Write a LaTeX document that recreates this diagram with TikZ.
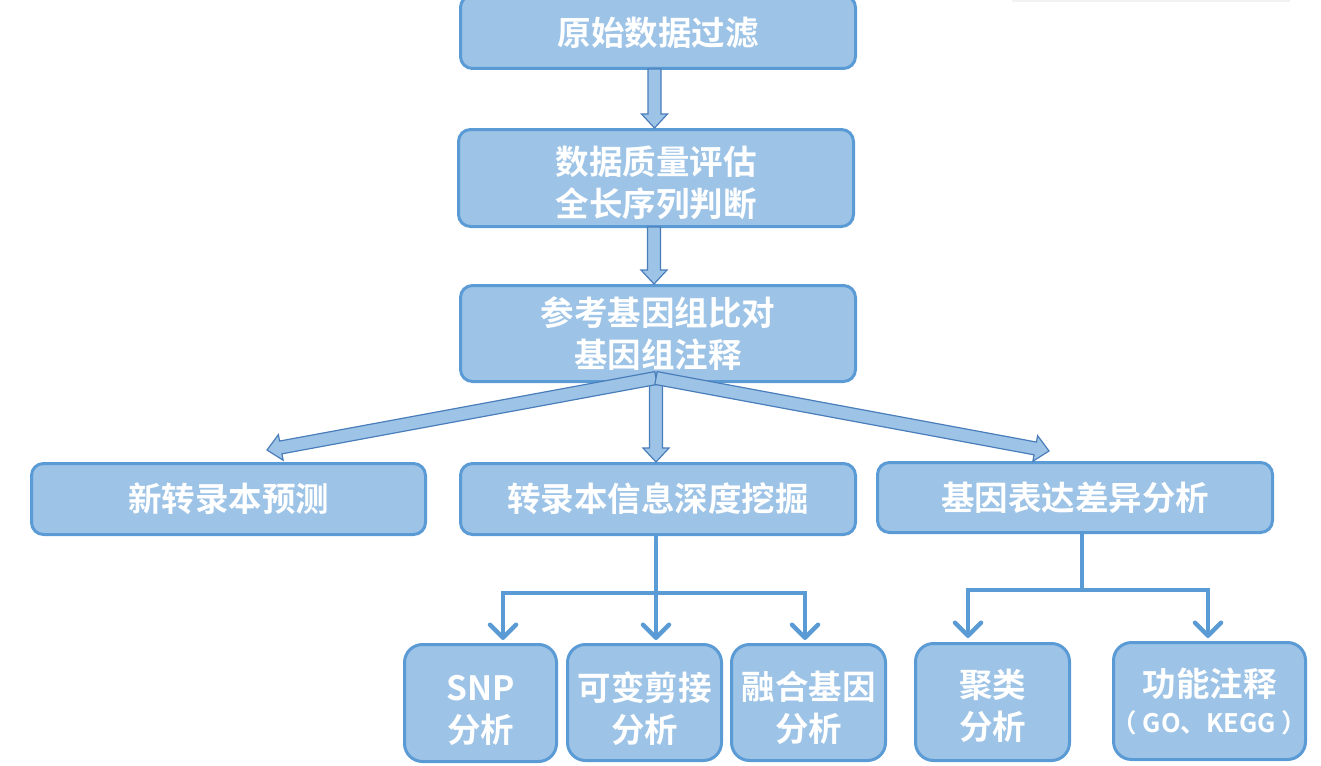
\documentclass[tikz,border=0pt]{standalone}
\usepackage{fontspec}
\setmainfont{Noto Sans CJK SC}[BoldFont={Noto Sans CJK SC Bold}]
\usetikzlibrary{calc,arrows.meta}
\definecolor{boxfill}{RGB}{157,195,230}
\definecolor{boxline}{RGB}{91,155,213}
\definecolor{arrline}{RGB}{74,126,187}
\newcommand\blockarr[2]{%
  \coordinate (bah) at ($(#2)!14pt!(#1)$);
  \draw[blockstyle] ($(#1)!6.5pt!-90:(#2)$) -- ($(bah)!6.5pt!-90:(#2)$) -- ($(bah)!13pt!-90:(#2)$) -- (#2) -- ($(bah)!13pt!90:(#2)$) -- ($(bah)!6.5pt!90:(#2)$) -- ($(#1)!6.5pt!90:(#2)$) -- cycle;}
\newcommand\lift[1]{\rule{0pt}{#1}}
\tikzset{
  box/.style={draw=boxline, line width=3pt, fill=boxfill, rounded corners=12pt,
    text=white, font=\bfseries\fontsize{33.5}{42}\selectfont, align=center, inner sep=0pt},
  bbox/.style={box, rounded corners=18pt},
  blockstyle/.style={draw=arrline, line width=1.2pt, fill=boxfill, line join=miter},
  trunk/.style={draw=boxline, line width=4.5pt},
  thinarr/.style={trunk, -{Straight Barb[length=13pt,width=26pt,line width=4.5pt,round]}},
}
\begin{document}
\begin{tikzpicture}[x=1pt,y=-1pt]
\useasboundingbox (0,0) rectangle (1321,765);
\fill[gray!10] (1012,0) rectangle (1290,2.5);
% main boxes
\node[box, minimum width=395pt, minimum height=73pt] (b1) at (658,32) {\lift{31pt}原始数据过滤};
\node[box, minimum width=395pt, minimum height=97pt] (b2) at (656,178) {\lift{39pt}数据质量评估\\全长序列判断};
\node[box, minimum width=395pt, minimum height=96pt] (b3) at (658,333.5) {参考基因组比对\\基因组注释};
\node[box, minimum width=394pt, minimum height=71pt] (b4) at (228.5,499) {新转录本预测};
\node[box, minimum width=395pt, minimum height=71pt] (b5) at (658,499) {转录本信息深度挖掘};
\node[box, minimum width=395pt, minimum height=70pt] (b6) at (1075,497.5) {基因表达差异分析};
% bottom boxes
\node[bbox, minimum width=152pt, minimum height=117pt] (snp) at (480.5,703) {\lift{41pt}SNP\\分析};
\node[bbox, minimum width=154pt, minimum height=116pt] (kb) at (644.5,702.5) {\lift{41pt}可变剪接\\分析};
\node[bbox, minimum width=154pt, minimum height=116pt] (rh) at (808.5,702.5) {\lift{39pt}融合基因\\分析};
\node[bbox, minimum width=154pt, minimum height=117pt] (jl) at (992.5,702) {\lift{37pt}聚类\\分析};
\node[bbox, minimum width=192pt, minimum height=117pt] (gn) at (1209.5,701) {功能注释\\[-6pt]\makebox[180pt][c]{\fontsize{25.5}{30}\selectfont （ GO、KEGG ）}};
% block arrows
\coordinate (a1s) at ($(b1.south)+(-3.5,-1)$);
\coordinate (a1e) at (a1s |- b2.north);
\blockarr{a1s}{a1e}
\coordinate (a2s) at ($(b2.south)+(-2,-1)$);
\coordinate (a2e) at (a2s |- b3.north);
\blockarr{a2s}{a2e}
\coordinate (sp) at ($(b3.south)+(-2,-5)$);
\coordinate (td) at (sp |- b5.north);
\coordinate (tl) at ($(b4.north)+(38.5,-12)$);
\coordinate (tr) at ($(b6.north)+(-26,-10)$);
\blockarr{sp}{td}
\blockarr{sp}{tl}
\blockarr{sp}{tr}
% thin connectors
\coordinate (j5) at ($(b5.south)+(-2,57)$);
\coordinate (t1) at ($(snp.north)+(22.5,-3)$);
\coordinate (t2) at ($(kb.north)+(11.5,-3)$);
\coordinate (t3) at ($(rh.north)+(-3.5,-3)$);
\draw[trunk] (b5.south -| j5) -- (j5);
\draw[thinarr] (j5) -| (t1);
\draw[thinarr] (j5) -- (t2);
\draw[thinarr] (j5) -| (t3);
\coordinate (j6) at ($(b6.south)+(7,56)$);
\coordinate (t4) at ($(jl.north)+(-24.5,-4)$);
\coordinate (t5) at ($(gn.north)+(-1.5,-3)$);
\draw[trunk] (b6.south -| j6) -- (j6);
\draw[thinarr] (j6) -| (t4);
\draw[thinarr] (j6) -| (t5);
\end{tikzpicture}
\end{document}
